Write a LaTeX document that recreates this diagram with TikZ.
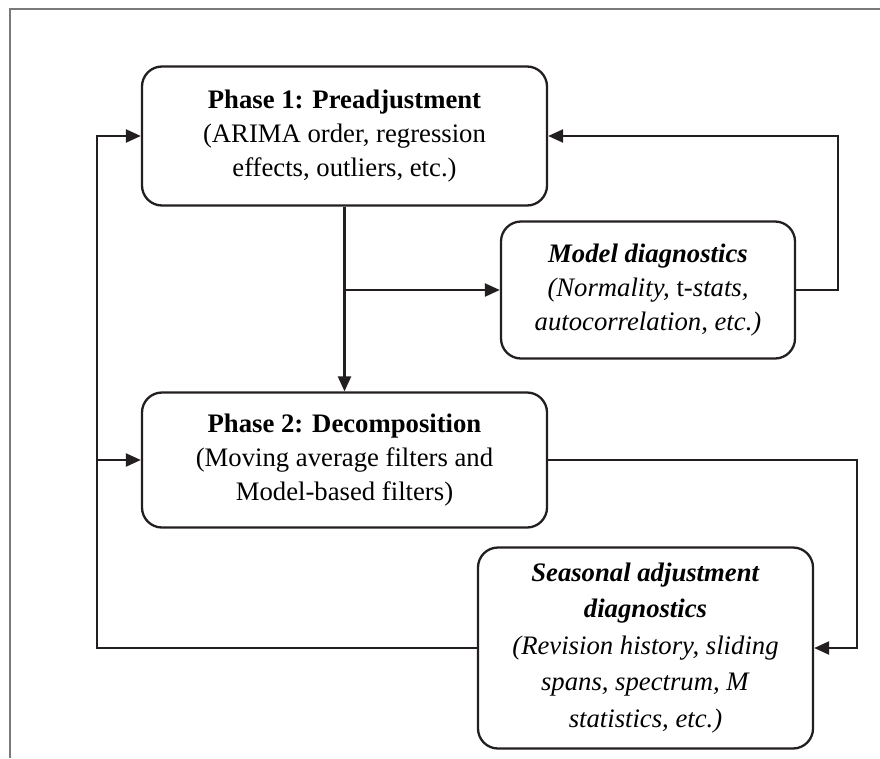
\documentclass[tikz,border=0pt]{standalone}
\usepackage{fontspec}
\setmainfont{Liberation Serif}
\usepackage{xcolor}
\definecolor{framegray}{HTML}{7A7A7A}
\definecolor{inkblack}{HTML}{231F20}
\usepackage{tikz}
\usetikzlibrary{arrows.meta, positioning, calc}
\tikzstyle{phase} = [
  rectangle, rounded corners=20pt,
  draw=inkblack, line width=2.3pt,
  fill=white, align=center, inner sep=4pt,
  font=\fontsize{26.7}{34}\selectfont
]
\tikzstyle{arrow} = [
  -{Triangle[length=15pt,width=13pt]}, line width=2.3pt, color=inkblack
]

\begin{document}
\begin{tikzpicture}[x=1pt, y=-1pt]

  \useasboundingbox (0,0) rectangle (880,758);
  \draw[framegray, line width=1.4pt] (10,758) -- (10,9) -- (880,9);

  \node[phase, minimum width=405pt, minimum height=139pt]
    (preadj) at (344.5,136)
    {\textbf{Phase 1: Preadjustment}\\(ARIMA order, regression\\effects, outliers, etc.)};
  \node[phase, minimum width=294pt, minimum height=137pt]
    (modeldiag) at (648,290)
    {\textbf{\textit{Model diagnostics}}\\\textit{(Normality, \textup{t}-stats,}\\\textit{autocorrelation, etc.)}};
  \node[phase, minimum width=405pt, minimum height=135pt]
    (decomp) at (344.5,460)
    {\textbf{Phase 2: Decomposition}\\(Moving average filters and\\Model-based filters)};
  \node[phase, minimum width=335pt, minimum height=201pt,
        font=\fontsize{26.7}{36.5}\selectfont]
    (sadiag) at (645.5,648)
    {\textbf{\textit{Seasonal adjustment}}\\\textbf{\textit{diagnostics}}\\\textit{(Revision history, sliding}\\\textit{spans, spectrum, M}\\\textit{statistics, etc.)}};

  \coordinate (leftx) at (97,0);
  \coordinate (rightx) at (838,0);
  \coordinate (farx) at (857,0);
  \coordinate (branch) at (preadj.south |- modeldiag.west);

  \draw[arrow] (preadj.south) -- (decomp.north);
  \draw[arrow] (branch) -- (modeldiag.west);
  \draw[arrow] (modeldiag.east) -- (modeldiag.east -| rightx) |- (preadj.east);
  \draw[arrow] (decomp.east) -- (decomp.east -| farx) |- (sadiag.east);
  \draw[arrow] (sadiag.west) -- (sadiag.west -| leftx) |- (preadj.west);
  \draw[arrow] (decomp.west -| leftx) -- (decomp.west);

\end{tikzpicture}
\end{document}
